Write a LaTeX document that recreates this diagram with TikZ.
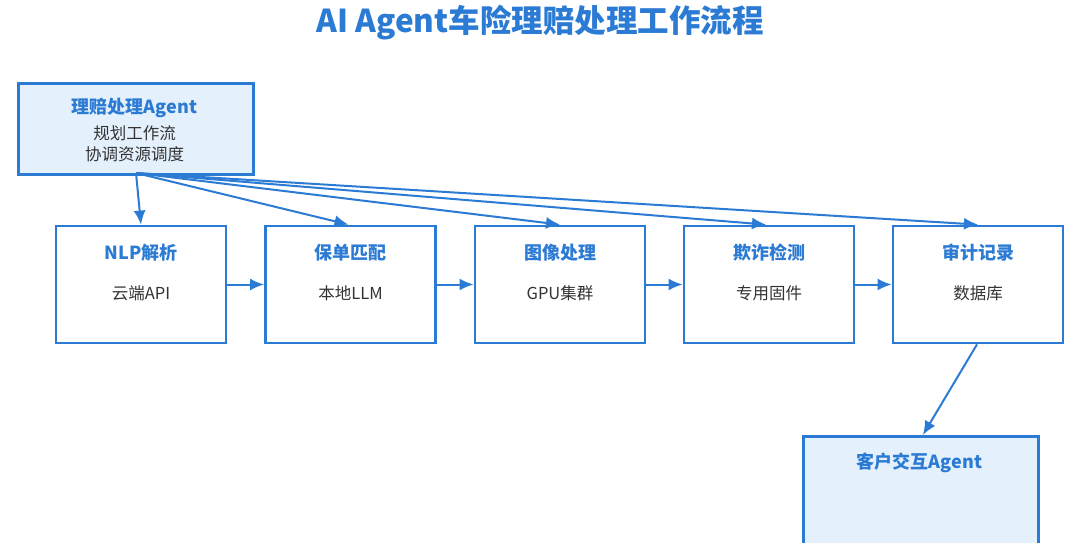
\documentclass[tikz,border=0pt]{standalone}
\usepackage{fontspec}
\setmainfont{Noto Sans CJK SC}
\usetikzlibrary{arrows.meta}
\definecolor{mainblue}{HTML}{2B7BD4}
\definecolor{lightfill}{HTML}{E4F1FC}
\definecolor{txtgray}{HTML}{333333}
\tikzset{
  stepbox/.style={draw=mainblue, line width=2.8pt, fill=white, minimum width=170pt, minimum height=117pt, inner sep=0pt},
  agentbox/.style={draw=mainblue, line width=2.8pt, fill=lightfill},
  ttl/.style={text=mainblue, font=\fontsize{18}{20}\selectfont\bfseries},
  sub/.style={text=txtgray, font=\fontsize{16.5}{21}\selectfont},
  arr/.style={draw=mainblue, line width=2pt, -{Latex[length=14pt,width=12pt]}},
}
\begin{document}
\begin{tikzpicture}[x=1pt,y=-1pt]
\useasboundingbox (0,0) rectangle (1080,543);
\node[text=mainblue, font=\fontsize{31.5}{34}\selectfont\bfseries] (title) at (540,23) {AI Agent车险理赔处理工作流程};
% top agent box
\node[agentbox, minimum width=235pt, minimum height=91pt, anchor=north west] (plan) at (17,82) {};
\node[ttl] (planT) at (134.5,108) {理赔处理Agent};
\node[sub, align=center] (planS) at (134.5,144) {规划工作流\\协调资源调度};
% step boxes
\foreach \n/\x/\t/\s in {nlp/141/NLP解析/云端API, pol/350.5/保单匹配/本地LLM, img/560/图像处理/GPU集群, fra/769/欺诈检测/专用固件, aud/978/审计记录/数据库}{
  \node[stepbox] (\n) at (\x,284.5) {};
  \node[ttl] (\n T) at (\x,253) {\t};
  \node[sub] (\n S) at (\x,293) {\s};
}
% customer box (cut off)
\begin{scope}
\clip (0,0) rectangle (1080,543);
\node[agentbox, minimum width=235pt, minimum height=140pt, anchor=north west] (cust) at (802,435) {};
\end{scope}
\node[ttl] (custT) at (919.5,463) {客户交互Agent};
% connectors
\coordinate (src) at (136,173);
\draw[arr] (src) -- (nlp.north);
\draw[arr] (src) -- ([xshift=-2pt]pol.north);
\draw[arr] (src) -- (img.north);
\draw[arr] (src) -- ([xshift=-3pt]fra.north);
\draw[arr] (src) -- (aud.north);
\draw[arr] (nlp) -- (pol);
\draw[arr] (pol) -- (img);
\draw[arr] (img) -- (fra);
\draw[arr] (fra) -- (aud);
\draw[arr] ([xshift=-1pt]aud.south) -- ([xshift=2pt]cust.north);
\end{tikzpicture}
\end{document}
